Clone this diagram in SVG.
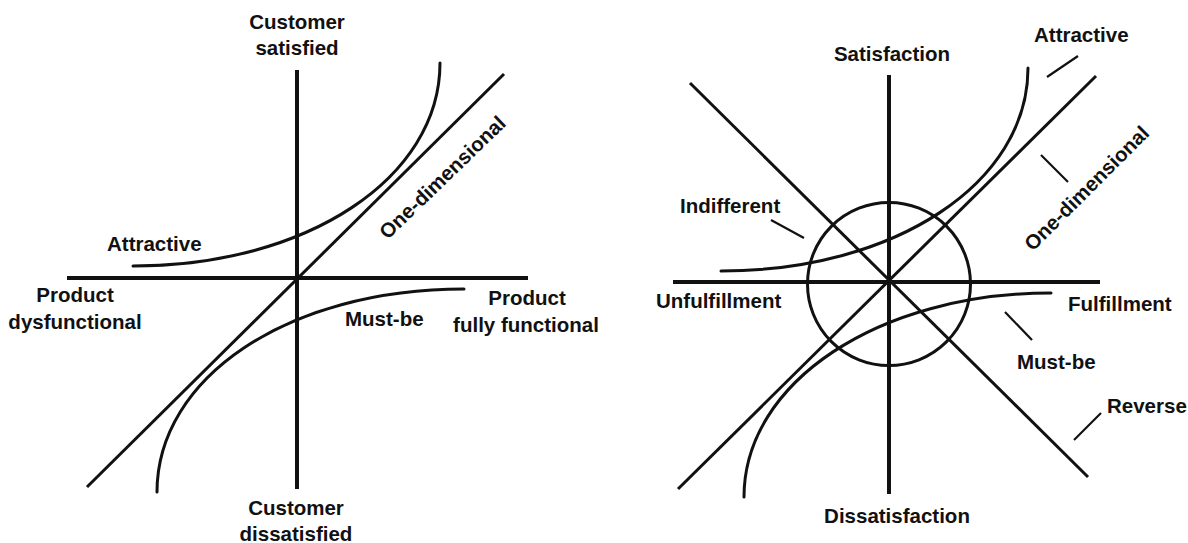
<svg xmlns="http://www.w3.org/2000/svg" width="1188" height="543" viewBox="0 0 1188 543">
  <style>
    .axis { stroke: #111; stroke-width: 4; fill: none; }
    .line { stroke: #111; stroke-width: 3; fill: none; }
    .curve { stroke: #111; stroke-width: 3; fill: none; stroke-linecap: round; }
    .tick { stroke: #111; stroke-width: 2.2; fill: none; }
    text { font-family: "Liberation Sans", Arial, sans-serif; font-weight: bold; font-size: 20.5px; fill: #111; }
    .mid { text-anchor: middle; }
  </style>
  <rect width="1188" height="543" fill="#ffffff"/>

  <!-- Left diagram -->
  <g id="left-diagram">
    <g id="left-axes">
      <path class="axis" d="M297,70 V489"/>
      <path class="axis" d="M67,278 H528"/>
    </g>
    <g id="left-curves">
      <path id="left-one-dimensional" class="line" d="M87,487 L504,74"/>
      <path id="left-attractive" class="curve" d="M133,266 C307,266 440,178 440,63"/>
      <path id="left-must-be" class="curve" d="M464,289 C287,289 157,378 157,492"/>
    </g>
    <g id="left-labels">
      <text class="mid" x="297" y="29">Customer</text>
      <text class="mid" x="297" y="55">satisfied</text>
      <text class="mid" x="296" y="515">Customer</text>
      <text class="mid" x="296" y="541">dissatisfied</text>
      <text class="mid" x="75" y="302">Product</text>
      <text class="mid" x="75" y="329">dysfunctional</text>
      <text class="mid" x="527" y="305">Product</text>
      <text class="mid" x="526" y="332">fully functional</text>
      <text x="107" y="251">Attractive</text>
      <text x="345" y="326">Must-be</text>
      <text class="mid" transform="translate(442.5,177.5) rotate(-44)" x="0" y="7">One-dimensional</text>
    </g>
  </g>

  <!-- Right diagram -->
  <g id="right-diagram">
    <g id="right-axes">
      <path class="axis" d="M889,75 V494"/>
      <path class="axis" d="M673,282 H1100"/>
    </g>
    <g id="right-curves">
      <circle id="right-indifferent-circle" class="line" cx="889" cy="284" r="81.5"/>
      <path id="right-one-dimensional" class="line" d="M678,489 L1096,76"/>
      <path id="right-reverse" class="line" d="M690,83 L1088,477"/>
      <path id="right-attractive" class="curve" d="M721,271 C895,271 1028,183 1028,68"/>
      <path id="right-must-be" class="curve" d="M1051,293 C879,293 744,382 744,497"/>
    </g>
    <g id="right-connectors">
      <path class="tick" d="M1047,77 L1078,56"/>
      <path class="tick" d="M1041,155 L1068,182"/>
      <path class="tick" d="M771,220 L804,238"/>
      <path class="tick" d="M1005,312 L1032,340"/>
      <path class="tick" d="M1101,413 L1074,440"/>
    </g>
    <g id="right-labels">
      <text class="mid" x="892" y="61">Satisfaction</text>
      <text class="mid" x="897" y="523">Dissatisfaction</text>
      <text x="656" y="308">Unfulfillment</text>
      <text x="1068" y="311">Fulfillment</text>
      <text x="1034" y="42">Attractive</text>
      <text x="680" y="213">Indifferent</text>
      <text x="1017" y="369">Must-be</text>
      <text x="1107" y="413">Reverse</text>
      <text class="mid" transform="translate(1086.7,188.3) rotate(-45)" x="0" y="7">One-dimensional</text>
    </g>
  </g>
</svg>
